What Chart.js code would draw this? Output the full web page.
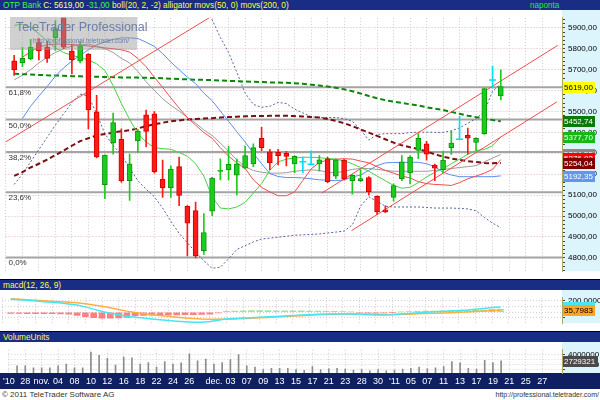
<!DOCTYPE html>
<html>
<head>
<meta charset="utf-8">
<script src="https://cdn.jsdelivr.net/npm/chart.js@4.4.0/dist/chart.umd.min.js"></script>
<style>
  body { margin: 0; background: #fff; font-family: "Liberation Sans", Arial, sans-serif; }
  #wrap { position: relative; width: 600px; height: 400px; overflow: hidden; background: #fff; }
  .bar { position: absolute; left: 0; width: 600px; height: 10px; background: #1a2d84; white-space: nowrap; overflow: hidden; }
  .bar .t { position: absolute; left: 3px; top: 0; font-size: 9px; line-height: 10px; transform: scaleX(0.92); transform-origin: 0 0; color: #ffff33; }
  .bar .r { position: absolute; left: 530px; top: 0; font-size: 9px; line-height: 10px; color: #22ee22; transform: scaleX(0.9); transform-origin: 0 0; }
  .sep { position: absolute; left: 0; width: 600px; height: 1px; background: #000; }
  canvas { position: absolute; left: 0; }
  #wm { position: absolute; left: 10px; top: 17px; width: 127px; height: 33px; background: rgba(150,150,150,0.45); }
  #wm .a { position: absolute; left: 6px; top: 3px; font-size: 12.5px; color: #6a7ea8; white-space: nowrap; }
  #wm .b { position: absolute; left: 23px; top: 20px; font-size: 6.5px; color: #6a7ea8; white-space: nowrap; }
  #foot { position: absolute; left: 0; top: 389px; width: 600px; height: 11px; background: #fff; }
  #foot .l { position: absolute; left: 2px; top: 0; font-size: 8px; line-height: 11px; color: #333; }
  #foot .r { position: absolute; right: 1px; top: 1px; font-size: 7px; line-height: 10px; color: #333; }
</style>
</head>
<body>
<div id="wrap">
  <div class="bar" style="top:0"><span class="t"><span style="color:#33ff33">OTP Bank</span> <span style="color:#ffff88">C: 5619,00</span> <span style="color:#33ff33">-31,00</span> boll(20, 2, -2) alligator movs(50, 0) movs(200, 0)</span><span class="r">naponta</span></div>
  <canvas id="main" width="600" height="269" style="top:10px"></canvas>
  <div id="wm"><span class="a">TeleTrader Professional</span><span class="b">http://professional.teletrader.com/</span></div>
  <div class="sep" style="top:279px"></div>
  <div class="bar" style="top:280px"><span class="t">macd(12, 26, 9)</span></div>
  <canvas id="macd" width="600" height="41" style="top:290px"></canvas>
  <div class="sep" style="top:331px"></div>
  <div class="bar" style="top:332px"><span class="t">VolumeUnits</span></div>
  <canvas id="vol" width="600" height="47" style="top:342px"></canvas>
  <div id="foot"><span class="l">© 2011 TeleTrader Software AG</span><span class="r">http://professional.teletrader.com/</span></div>
</div>
<script>
// daily OHLC, 27 Oct 2010 .. 20 Jan 2011 (x = trading day index)
const open  = [5742,5732,5751,5830,5807,5852,6000,5789,5740,5774,5498,5150,5349,5367,5169,5359,5484,5489,5177,5134,
               5236,5046,5026,4834,5023,5213,5222,5195,5229,5249,5372,5307,5304,5300,5249,5259,5247,5249,5274,5191,
               5267,5169,5169,5184,5094,5029,5089,5179,5206,5314,5345,5244,5222,5327,5367,5386,5352,5394,5650,5574];
const high  = [5769,5807,5845,5849,5837,5935,6118,5822,5834,5777,5577,5293,5492,5417,5296,5414,5507,5499,5267,5240,
               5282,5050,5067,5011,5185,5274,5334,5274,5334,5345,5424,5319,5319,5309,5289,5282,5312,5289,5282,5272,
               5270,5198,5222,5188,5097,5049,5154,5289,5289,5394,5357,5248,5309,5405,5477,5420,5375,5612,5717,5699];
const low   = [5672,5714,5747,5747,5735,5792,5800,5679,5732,5417,5278,5083,5296,5161,5074,5305,5331,5205,5089,5089,
               5049,4809,4800,4816,5002,5173,5173,5101,5225,5236,5312,5222,5244,5240,5206,5206,5245,5214,5160,5178,
               5173,5104,5164,5101,5008,5016,5071,5169,5154,5274,5267,5169,5206,5294,5365,5296,5312,5390,5612,5555];
const close = [5699,5754,5807,5789,5754,5897,5807,5747,5814,5507,5282,5291,5447,5169,5249,5405,5405,5211,5134,5224,
               5098,4966,4809,4921,5181,5218,5247,5249,5289,5327,5327,5254,5289,5285,5285,5259,5247,5269,5164,5269,
               5177,5195,5179,5116,5019,5019,5146,5259,5282,5372,5296,5229,5267,5349,5367,5372,5372,5609,5650,5619];

// overlays
const bollMid = [5651,5673,5700,5732,5759,5782,5800,5813,5818,5822,5813,5800,5782,5754,5732,5691,5642,5601,5561,5529,
                 5502,5471,5444,5412,5385,5349,5309,5268,5236,5218,5209,5205,5205,5207,5214,5218,5221,5218,5209,5206,
                 5214,5223,5227,5227,5223,5218,5214,5214,5214,5214,5214,5218,5223,5227,5232,5236,5241,5259,5277,5294];
const bollUp  = [6160,6180,6200,6220,6240,6250,6250,6240,6220,6200,6220,6250,6260,6270,6280,6280,6270,6250,6220,6190,
                 6150,6110,6070,6038,5939,5854,5782,5687,5588,5534,5520,5525,5543,5538,5511,5493,5475,5471,5471,5471,
                 5466,5453,5412,5363,5390,5394,5394,5394,5399,5401,5401,5400,5400,5408,5421,5444,5466,5498,5597,5633];
const bollLow = [5151,5200,5259,5318,5376,5435,5489,5543,5583,5574,5489,5394,5336,5295,5228,5169,5128,5092,5038,4975,
                 4917,4872,4827,4786,4750,4755,4795,4840,4858,4876,4890,4894,4899,4903,4908,4910,4912,4914,4919,4923,
                 4928,4957,5047,5092,5070,5047,5043,5043,5043,5043,5041,5038,5038,5038,5036,5034,5025,4993,4966,4944];
const jaw   = [null,5466,5525,5574,5619,5669,5709,5741,5768,5795,5818,5833,5845,5852,5852,5849,5831,5811,5777,5736,
               5700,5664,5633,5588,5552,5502,5453,5403,5354,5300,5250,5203,5189,5184,5184,5182,5178,5173,5171,5169,
               5173,5187,5196,5218,5241,5254,5256,5256,5257,5257,5250,5236,5209,5196,5188,5188,5188,5188,5188,5192];
const teeth = [null,5759,5786,5809,5818,5822,5822,5820,5818,5813,5809,5804,5800,5795,5784,5754,5714,5664,5615,5565,
               5516,5471,5435,5399,5372,5327,5286,5254,5228,5173,5137,5115,5097,5097,5115,5170,5225,5256,5268,5272,
               5274,5272,5263,5254,5236,5218,5205,5191,5182,5164,5155,5151,5149,5146,5160,5178,5191,5205,5223,5270];
const lips  = [5912,5917,5903,5872,5836,5804,5782,5768,5759,5746,5728,5696,5624,5538,5462,5394,5354,5327,5322,5319,
               5304,5286,5250,5191,5092,5038,5034,5043,5065,5110,5155,5218,5259,5272,5277,5281,5281,5279,5275,5272,
               5263,5250,5232,5214,5191,5169,5146,5133,5137,5160,5187,5209,5227,5250,5272,5295,5313,5318,5336,5378];
const ma200 = [5680,5678,5677,5675,5673,5672,5671,5669,5668,5667,5666,5665,5664,5663,5663,5662,5661,5660,5659,5657,
               5655,5654,5652,5651,5650,5648,5646,5645,5643,5642,5641,5639,5638,5637,5635,5632,5628,5624,5619,5613,
               5606,5597,5586,5574,5563,5554,5547,5541,5534,5529,5520,5513,5507,5498,5489,5480,5473,5466,5459,5453];
const ma50  = [5192,5210,5232,5250,5270,5291,5313,5336,5358,5372,5385,5392,5399,5405,5410,5419,5430,5439,5446,5453,
               5457,5462,5464,5466,5468,5471,5473,5475,5477,5478,5478,5479,5480,5480,5478,5476,5474,5471,5464,5455,
               5444,5430,5414,5399,5383,5367,5351,5338,5329,5320,5309,5295,5284,5275,5268,5262,5258,5254,5252,5254];

// macd panel
const macd   = [229,220,210,198,186,175,162,146,128,95,55,15,-18,-45,-70,-88,-103,-118,-132,-146,
                -158,-168,-175,-178,-165,-140,-115,-108,-101,-95,-88,-81,-73,-66,-58,-50,-43,-37,-32,-30,
                -29,-29,-34,-42,-50,-48,-43,-30,-20,-8,0,8,15,22,30,38,55,68,82,93];
const signal = [237,230,222,212,202,193,184,176,167,150,128,105,78,50,20,-5,-25,-42,-58,-72,
                -86,-100,-112,-121,-124,-124,-122,-118,-112,-106,-99,-92,-84,-76,-68,-60,-52,-45,-39,-35,
                -32,-30,-30,-33,-36,-38,-38,-37,-33,-28,-24,-19,-13,-7,-1,6,14,22,30,36];
const hist   = [-20,-22,-24,-25,-26,-27,-28,-32,-55,-80,-95,-105,-105,-100,-92,-60,-55,-52,-50,-48,
                -46,-44,-42,-40,-32,-12,15,22,26,28,28,28,27,26,25,24,22,20,18,15,
                10,5,-8,-14,-16,-12,-6,8,14,18,20,22,24,25,26,28,32,40,50,57];

// volume panel
const volume = [1740000,1740000,1340000,1340000,1340000,1740000,2090000,1340000,1340000,4480000,
                3830000,3230000,1890000,3480000,3330000,2090000,2390000,1490000,2590000,2090000,
                2340000,4130000,2740000,3080000,2090000,2390000,2990000,3980000,1740000,1490000,
                1000000,1240000,1240000,1240000,1000000,850000,1590000,1000000,1140000,1240000,
                1090000,900000,1000000,750000,1000000,750000,900000,1090000,1240000,1490000,
                1140000,1340000,1590000,2590000,2340000,1240000,1090000,2840000,2390000,2729321];

// date axis
const tickDays   = [-1,1,3,5,7,9,11,13,15,17,19,21,24,26,28,30,32,34,36,38,40,42,44,46,48,50,52,54,56,58,60,62,64];
const tickLabels = ["'10","28","nov.","04","08","10","12","16","18","22","24","26","dec.","03","07","09","13","15",
                    "17","21","23","28","30","'11","05","07","11","13","17","19","21","25","27"];

// drawn levels and trend lines (day, price)
const fibLevels = [5616, 5461, 5306, 5114, 4802];
const fibLabels = ['61,8%', '50,0%', '38,2%', '23,6%', '0,0%'];
const trendA = [[-1.05, 5354], [24.6, 5971]];
const trendB = [[37.3, 5110], [65.9, 5816]];
const trendC = [[40.9, 4930], [65.8, 5546]];

// last values shown on the right axes
const lastPrice  = [5294.55, 5276.02, 5254.04, 5192.35, 5377.70, 5452.74, 5619.00];
const lastMacd   = [92.7681, 35.7983];
const lastVolume = [2729321];

const macdTicks = [-100, 0, 100, 200];
const macdTickText = ['', '0', '', '200,0000'];
const volTicks = [1000000, 2000000, 3000000, 4000000];
const volTickText = ['', '2000000', '', '4000000'];

// ---- chart setup ----
const FONT = '"Liberation Sans", Arial, sans-serif';
Chart.defaults.font.family = FONT;
Chart.defaults.animation = false;
Chart.defaults.events = [];
Chart.defaults.plugins.legend.display = false;
Chart.defaults.plugins.tooltip.enabled = false;

const X_MIN = -1.048, X_MAX = 66.42;
const AXIS_W = 38;
const fmt = (v, d) => v.toFixed(d).replace('.', ',');
const idx = close.map((c, i) => i);

function xAxis(labels) {
  return {
    type: 'linear', min: X_MIN, max: X_MAX, offset: false,
    afterBuildTicks: s => { s.ticks = tickDays.map(v => ({ value: v })); },
    afterFit: s => { s.height = labels ? 16 : 0; },
    ticks: labels
      ? { display: true, autoSkip: false, maxRotation: 0, color: '#fff', font: { size: 9 }, padding: 3,
          callback: (v, i) => tickLabels[i] }
      : { display: false },
    grid: { color: '#d8c8ce', drawTicks: false, offset: false },
    border: { display: false, dash: [1, 2] }
  };
}

const panelBg = {
  id: 'panelBg',
  beforeDraw(chart, args, opts) {
    const { ctx, chartArea: a, width, height } = chart;
    ctx.save();
    ctx.fillStyle = '#fff';
    ctx.fillRect(0, 0, a.right, a.bottom);
    ctx.fillStyle = '#dcf4fb';
    ctx.fillRect(a.right, 0, width - a.right, a.bottom);
    if (opts.band) {
      ctx.fillStyle = opts.band;
      ctx.fillRect(0, a.bottom, width, height - a.bottom);
    }
    ctx.restore();
  }
};

const valueTags = {
  id: 'valueTags',
  afterDraw(chart, args, opts) {
    const { ctx, chartArea: a } = chart;
    const ys = chart.scales.y;
    ctx.save();
    ctx.font = '8px ' + FONT;
    ctx.textBaseline = 'middle';
    if (opts.levels) {
      ctx.fillStyle = '#333';
      opts.levels.forEach((lv, i) => {
        ctx.fillText(opts.levelText[i], a.left + 3, Math.round(ys.getPixelForValue(lv)) + 6);
      });
    }
    (opts.values || []).forEach((v, i) => {
      const py = Math.round(ys.getPixelForValue(v));
      const txt = opts.format(v);
      const w = Math.ceil(ctx.measureText(txt).width) + 3;
      ctx.fillStyle = opts.colors[i][0];
      ctx.fillRect(a.right + 1, py - 5, w, 11);
      ctx.fillStyle = opts.colors[i][1];
      ctx.fillText(txt, a.right + 2, py + 0.5);
    });
    ctx.restore();
  }
};

function line(values, color, width, dash, order) {
  return {
    type: 'line', data: values.map((v, i) => ({ x: i, y: v })),
    borderColor: color, borderWidth: width, borderDash: dash || [],
    pointRadius: 0, fill: false, tension: 0, order
  };
}
function seg(pts, color, width, order) {
  return {
    type: 'line', data: pts.map(p => ({ x: p[0], y: p[1] })),
    borderColor: color, borderWidth: width, pointRadius: 0, fill: false, order
  };
}

const candleFill = idx.map(i => close[i] > open[i] ? '#1ccc1c' : close[i] < open[i] ? '#ff1a1a' : '#00dff0');
const candleEdge = idx.map(i => close[i] > open[i] ? '#0a980a' : close[i] < open[i] ? '#d40000' : '#00dff0');

// ---- main price panel ----
new Chart(document.getElementById('main'), {
  type: 'bar',
  data: {
    datasets: [
      { type: 'line', showLine: false, order: 0,
        data: idx.filter(i => open[i] === close[i]).map(i => ({ x: i, y: close[i] })),
        pointStyle: 'line', pointRadius: 3.5, pointBorderWidth: 1.5, borderColor: '#00dff0' },
      { data: idx.map(i => ({ x: i, y: [open[i], close[i]] })), backgroundColor: candleFill,
        borderColor: candleEdge, borderWidth: 1, borderSkipped: false,
        barThickness: 5, grouped: false, order: 1 },
      { data: idx.map(i => ({ x: i, y: [low[i], high[i]] })), backgroundColor: candleFill,
        barThickness: 1, grouped: false, order: 2 },
      seg(trendA, '#f24c4c', 1, 3),
      seg(trendB, '#f24c4c', 1, 3),
      seg(trendC, '#f24c4c', 1, 3),
      line(lips, '#44d444', 1, null, 4),
      line(teeth, '#f24c4c', 1, null, 4),
      line(jaw, '#5b8ef0', 1, null, 4),
      line(ma200, '#0b860b', 2, [5, 3], 5),
      line(ma50, '#7a1010', 2, [5, 3], 5),
      line(bollMid, '#9c9c9c', 1, null, 6),
      line(bollUp, '#5565a5', 1, [2, 2], 6),
      line(bollLow, '#5565a5', 1, [2, 2], 6),
      ...fibLevels.map(lv => seg([[X_MIN, lv], [X_MAX, lv]], '#a4a4a4', 2, 7))
    ]
  },
  options: {
    responsive: false,
    layout: { padding: { left: 2 } },
    scales: {
      x: xAxis(false),
      y: {
        position: 'right', min: 4736, max: 5948,
        afterFit: s => { s.width = AXIS_W; },
        ticks: { stepSize: 20, includeBounds: false, autoSkip: false, color: '#000', font: { size: 8 }, padding: 3,
                 callback: v => v % 100 === 0 ? fmt(v, 2) : '' },
        grid: { tickLength: 3, tickColor: '#444',
                color: c => c.tick && c.tick.value % 100 === 0 ? '#e2b6c6'
                          : (c.tick && c.tick.value % 50 === 0 ? '#c6c6c6' : 'rgba(0,0,0,0)') },
        border: { display: true, color: '#b0a860', dash: [1, 2] }
      }
    },
    plugins: {
      panelBg: {},
      valueTags: {
        levels: fibLevels, levelText: fibLabels, values: lastPrice, format: v => fmt(v, 2),
        colors: [['#8a8a8a', '#fff'], ['#ff0000', '#fff'], ['#800000', '#fff'], ['#6495ed', '#fff'],
                 ['#16b816', '#fff'], ['#0a7a0a', '#fff'], ['#ffff00', '#000']]
      }
    }
  },
  plugins: [panelBg, valueTags]
});

// ---- macd panel ----
new Chart(document.getElementById('macd'), {
  type: 'bar',
  data: {
    datasets: [
      line(macd, '#46e6f2', 1.5, null, 0),
      line(signal, '#ffae40', 1.5, null, 1),
      { data: idx.map(i => ({ x: i, y: hist[i] })), barThickness: 6, grouped: false, order: 2,
        backgroundColor: hist.map(v => v < 0 ? 'rgba(255,96,96,0.8)' : 'rgba(128,228,128,0.8)') }
    ]
  },
  options: {
    responsive: false,
    layout: { padding: { left: 2 } },
    scales: {
      x: xAxis(false),
      y: {
        position: 'right', min: -193, max: 255,
        afterFit: s => { s.width = AXIS_W; },
        afterBuildTicks: s => { s.ticks = macdTicks.map(v => ({ value: v })); },
        ticks: { autoSkip: false, color: '#000', font: { size: 8 }, padding: 3, callback: (v, i) => macdTickText[i] },
        grid: { tickLength: 3, tickColor: '#444', color: '#dccbd2' },
        border: { display: true, color: '#b0a860', dash: [1, 2] }
      }
    },
    plugins: {
      panelBg: {},
      valueTags: { values: lastMacd, format: v => fmt(v, 4), colors: [['#46e6f2', '#000'], ['#ffa428', '#000']] }
    }
  },
  plugins: [panelBg, valueTags]
});

// ---- volume panel ----
new Chart(document.getElementById('vol'), {
  type: 'bar',
  data: {
    datasets: [
      { data: idx.map(i => ({ x: i, y: volume[i] })), backgroundColor: '#8c8c8c', barThickness: 1, grouped: false }
    ]
  },
  options: {
    responsive: false,
    layout: { padding: { left: 2 } },
    scales: {
      x: xAxis(true),
      y: {
        position: 'right', min: 313000, max: 4940000,
        afterFit: s => { s.width = AXIS_W; },
        afterBuildTicks: s => { s.ticks = volTicks.map(v => ({ value: v })); },
        ticks: { autoSkip: false, color: '#000', font: { size: 8 }, padding: 3, callback: (v, i) => volTickText[i] },
        grid: { tickLength: 3, tickColor: '#444', color: '#d4d4d4' },
        border: { display: true, color: '#b0a860', dash: [1, 2] }
      }
    },
    plugins: {
      panelBg: { band: '#0f1f62' },
      valueTags: { values: lastVolume, format: v => String(v), colors: [['#4a4a4a', '#fff']] }
    }
  },
  plugins: [panelBg, valueTags]
});
</script>
</body>
</html>
